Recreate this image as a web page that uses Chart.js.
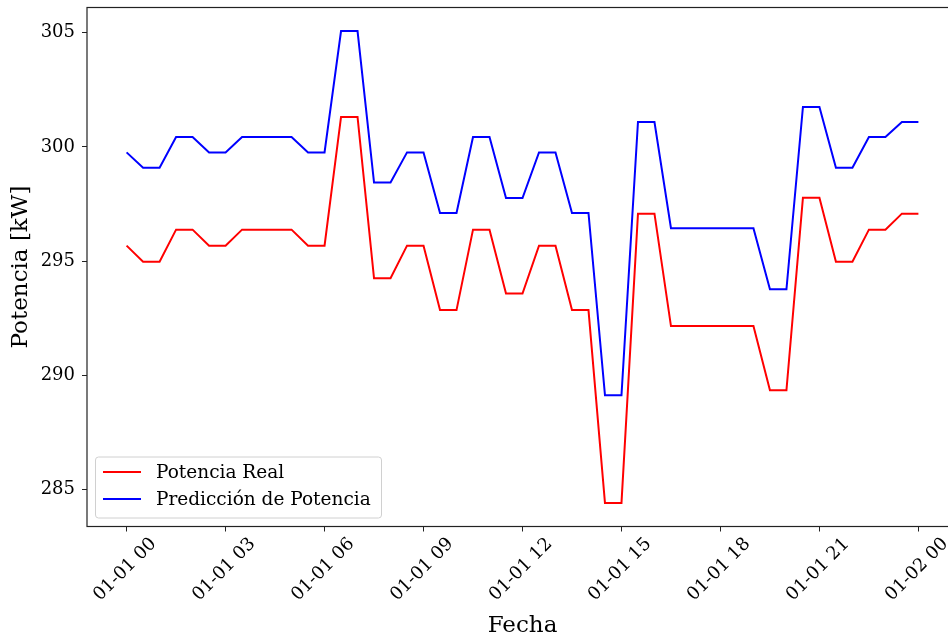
<!DOCTYPE html>
<html>
<head>
<meta charset="utf-8">
<script src="https://cdn.jsdelivr.net/npm/chart.js@4.4.1/dist/chart.umd.min.js"></script>
<style>
  html, body { margin: 0; padding: 0; background: #fff; overflow: hidden; }
  #grafico { display: block; }
</style>
</head>
<body>
<canvas id="grafico" width="960" height="641"></canvas>
<script>
// horas desde 01-01 00:00 (cada 30 min)
const horas = [0, 0.5, 1, 1.5, 2, 2.5, 3, 3.5, 4, 4.5, 5, 5.5, 6, 6.5, 7, 7.5, 8, 8.5, 9, 9.5,
  10, 10.5, 11, 11.5, 12, 12.5, 13, 13.5, 14, 14.5, 15, 15.5, 16, 16.5, 17, 17.5, 18, 18.5, 19, 19.5,
  20, 20.5, 21, 21.5, 22, 22.5, 23, 23.5, 24];

const potenciaReal = [295.68, 294.98, 294.98, 296.38, 296.38, 295.68, 295.68, 296.38, 296.38, 296.38,
  296.38, 295.68, 295.68, 301.31, 301.31, 294.25, 294.25, 295.68, 295.68, 292.86,
  292.86, 296.38, 296.38, 293.58, 293.58, 295.68, 295.68, 292.86, 292.86, 284.42,
  284.42, 297.08, 297.08, 292.16, 292.16, 292.16, 292.16, 292.16, 292.16, 289.35,
  289.35, 297.78, 297.78, 294.98, 294.98, 296.38, 296.38, 297.08, 297.08];

const prediccion = [299.76, 299.09, 299.09, 300.43, 300.43, 299.76, 299.76, 300.43, 300.43, 300.43,
  300.43, 299.76, 299.76, 305.07, 305.07, 298.44, 298.44, 299.76, 299.76, 297.11,
  297.11, 300.43, 300.43, 297.76, 297.76, 299.76, 299.76, 297.11, 297.11, 289.13,
  289.13, 301.09, 301.09, 296.44, 296.44, 296.44, 296.44, 296.44, 296.44, 293.77,
  293.77, 301.75, 301.75, 299.09, 299.09, 300.43, 300.43, 301.09, 301.09];

const ticksX = [0, 3, 6, 9, 12, 15, 18, 21, 24];
const etiquetasX = ['01-01 00', '01-01 03', '01-01 06', '01-01 09', '01-01 12',
  '01-01 15', '01-01 18', '01-01 21', '01-02 00'];
const ticksY = [285, 290, 295, 300, 305];

const fuente = "'DejaVu Serif', serif";

// marco de los ejes (estilo matplotlib)
const marco = {
  id: 'marco',
  afterDraw(chart) {
    const { ctx, chartArea: a } = chart;
    ctx.save();
    ctx.strokeStyle = '#222';
    ctx.lineWidth = 1.2;
    ctx.strokeRect(a.left, a.top, a.right - a.left, a.bottom - a.top);
    ctx.restore();
  }
};

// leyenda dentro del area, abajo a la izquierda
const leyenda = {
  id: 'leyenda',
  afterDraw(chart) {
    const { ctx } = chart;
    const x = 95.5, y = 457, w = 286, h = 61;
    ctx.save();
    ctx.beginPath();
    ctx.roundRect(x, y, w, h, 3);
    ctx.fillStyle = 'rgba(255,255,255,0.8)';
    ctx.fill();
    ctx.strokeStyle = '#d0d0d0';
    ctx.lineWidth = 1;
    ctx.stroke();
    ctx.font = '18.5px ' + fuente;
    ctx.textBaseline = 'middle';
    chart.data.datasets.forEach((ds, i) => {
      const yy = 472 + i * 27;
      ctx.strokeStyle = ds.borderColor;
      ctx.lineWidth = 2;
      ctx.beginPath();
      ctx.moveTo(103, yy);
      ctx.lineTo(141, yy);
      ctx.stroke();
      ctx.fillStyle = '#000';
      ctx.fillText(ds.label, 156, yy + 1);
    });
    ctx.restore();
  }
};

new Chart(document.getElementById('grafico'), {
  type: 'line',
  data: {
    datasets: [{
      label: 'Potencia Real',
      data: horas.map((h, i) => ({ x: h, y: potenciaReal[i] })),
      borderColor: '#ff0000',
      borderWidth: 2,
      pointRadius: 0,
      tension: 0
    }, {
      label: 'Predicción de Potencia',
      data: horas.map((h, i) => ({ x: h, y: prediccion[i] })),
      borderColor: '#0000ff',
      borderWidth: 2,
      pointRadius: 0,
      tension: 0
    }]
  },
  options: {
    responsive: false,
    animation: false,
    layout: { padding: { top: 7.5, right: 2, left: 0, bottom: 0 } },
    plugins: {
      legend: { display: false },
      tooltip: { enabled: false }
    },
    scales: {
      x: {
        type: 'linear',
        min: -1.2,
        max: 25.2,
        afterBuildTicks: s => { s.ticks = ticksX.map(v => ({ value: v })); },
        afterFit: s => { s.height = 114.5; s.paddingLeft = 0; s.paddingRight = 0; },
        border: { display: false },
        grid: { drawOnChartArea: false, drawTicks: true, tickLength: 5, color: '#222' },
        ticks: {
          autoSkip: false,
          minRotation: 45,
          maxRotation: 45,
          labelOffset: 27,
          padding: 2,
          color: '#000',
          font: { family: fuente, size: 18 },
          callback: v => etiquetasX[ticksX.indexOf(v)]
        },
        title: {
          display: true,
          text: 'Fecha',
          color: '#000',
          font: { family: fuente, size: 23 },
          padding: { top: 0, bottom: 1 }
        }
      },
      y: {
        min: 283.39,
        max: 306.10,
        afterBuildTicks: s => { s.ticks = ticksY.map(v => ({ value: v })); },
        afterFit: s => { s.width = 87; s.paddingTop = 0; s.paddingBottom = 0; },
        border: { display: false },
        grid: { drawOnChartArea: false, drawTicks: true, tickLength: 5, color: '#222' },
        ticks: {
          padding: 7,
          color: '#000',
          font: { family: fuente, size: 18 }
        },
        title: {
          display: true,
          text: 'Potencia [kW]',
          color: '#000',
          font: { family: fuente, size: 23 },
          padding: { top: 7, bottom: 0 }
        }
      }
    }
  },
  plugins: [marco, leyenda]
});
</script>
</body>
</html>
